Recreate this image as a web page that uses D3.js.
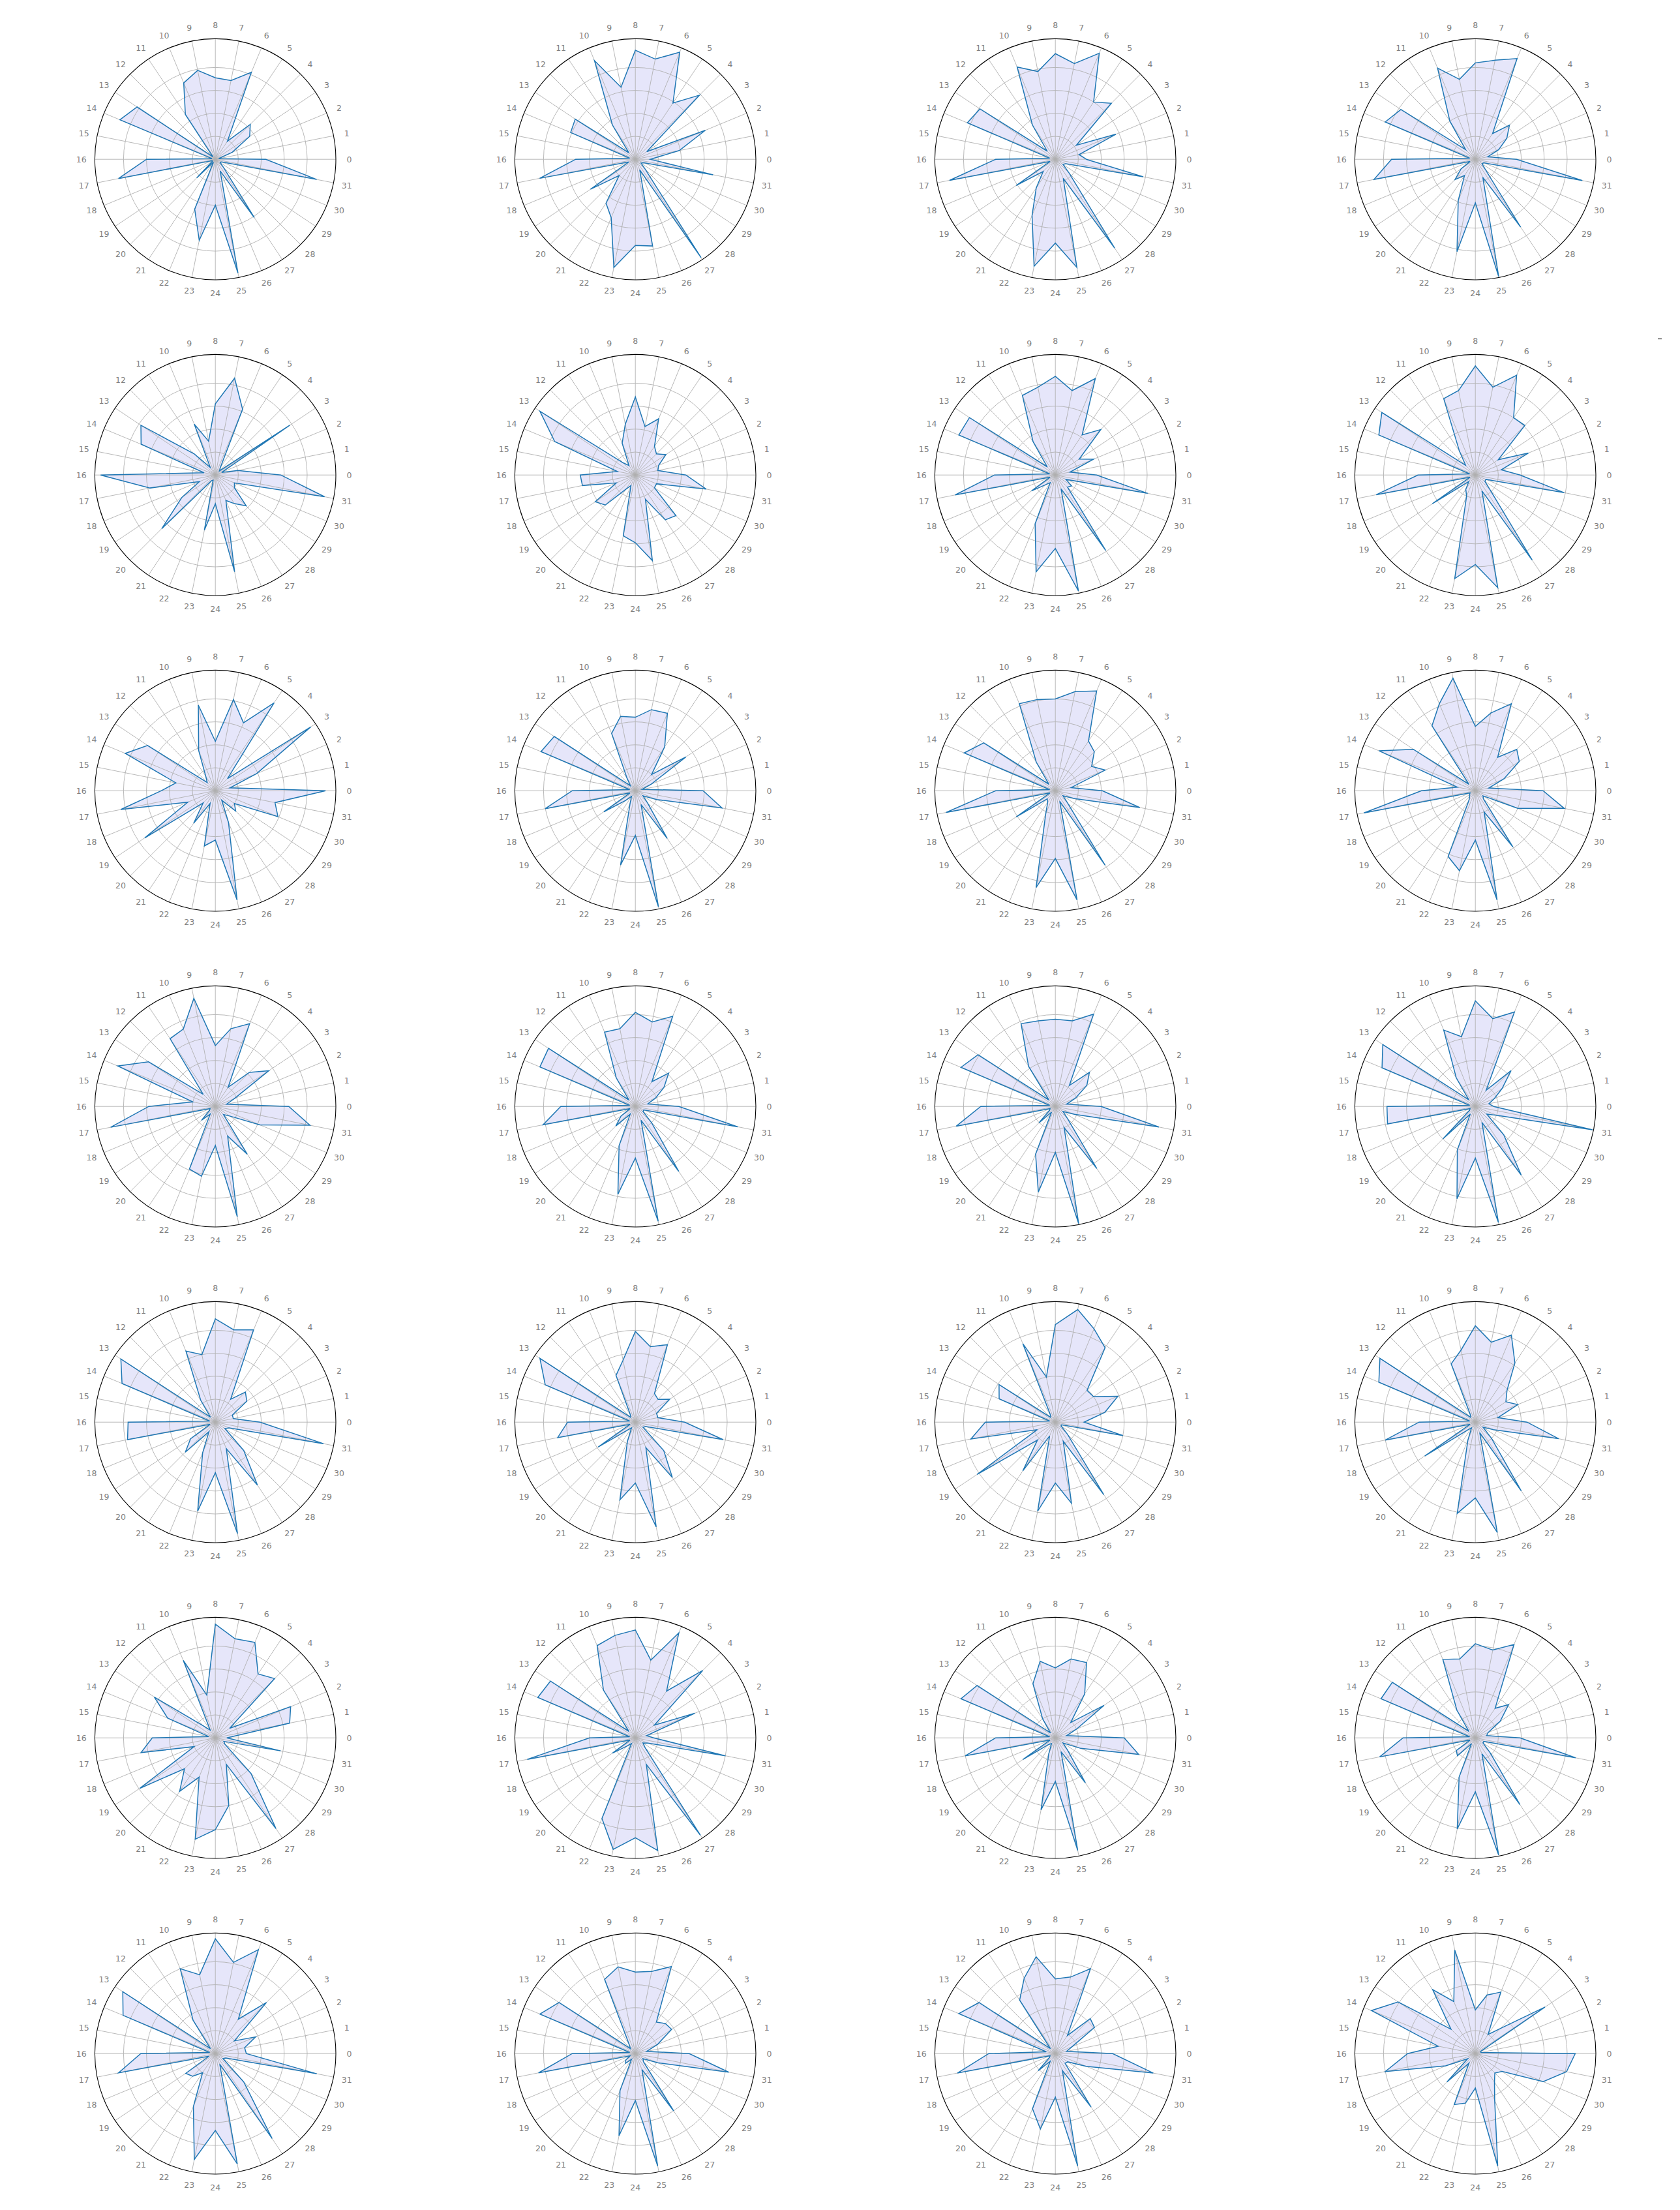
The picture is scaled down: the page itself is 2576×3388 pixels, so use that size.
<!DOCTYPE html>
<html>
<head>
<meta charset="utf-8">
<script src="https://cdn.jsdelivr.net/npm/d3@7"></script>
<style>
  body { margin: 0; background: #fff; }
  svg { display: block; }
  .spoke-label { font-family: "DejaVu Sans", sans-serif; font-size: 12.5px; fill: #808080; }
</style>
</head>
<body>
<svg id="chart"></svg>
<script>
// 32 spokes, counter-clockwise from the right
const spokeLabels = ['0', '1', '2', '3', '4', '5', '6', '7', '8', '9', '10', '11', '12', '13', '14', '15',
    '16', '17', '18', '19', '20', '21', '22', '23', '24', '25', '26', '27', '28', '29', '30', '31'];
const ringValues = [0.2, 0.4, 0.6, 0.8];
const rMax = 1.05;

// one array per panel (row by row, left to right)
const panel01 = [0.44, 0.03, 0.16, 0.36, 0.43, 0.19, 0.82, 0.70, 0.71, 0.79, 0.72, 0.47, 0.03, 0.82, 0.90, 0.03, 0.60, 0.86, 0.03, 0.03, 0.23, 0.03, 0.47, 0.72, 0.40, 1.01, 0.11, 0.61, 0.10, 0.05, 0.06, 0.90];
const panel02 = [0.13, 0.39, 0.66, 0.12, 0.79, 0.59, 1.01, 0.89, 0.95, 0.64, 0.93, 0.36, 0.08, 0.63, 0.61, 0.05, 0.52, 0.85, 0.06, 0.47, 0.20, 0.46, 0.55, 0.96, 0.75, 0.77, 0.10, 1.03, 0.12, 0.06, 0.08, 0.69];
const panel03 = [0.27, 0.21, 0.57, 0.22, 0.69, 0.60, 1.00, 0.85, 0.92, 0.78, 0.87, 0.36, 0.10, 0.79, 0.83, 0.05, 0.52, 0.94, 0.05, 0.41, 0.15, 0.30, 0.53, 0.95, 0.73, 0.96, 0.18, 0.93, 0.17, 0.08, 0.10, 0.78];
const panel04 = [0.36, 0.11, 0.22, 0.33, 0.42, 0.27, 0.95, 0.88, 0.84, 0.71, 0.86, 0.40, 0.12, 0.78, 0.85, 0.05, 0.73, 0.90, 0.05, 0.15, 0.25, 0.17, 0.39, 0.82, 0.38, 1.04, 0.17, 0.71, 0.12, 0.07, 0.08, 0.95];
const panel05 = [0.57, 0.20, 0.06, 0.78, 0.05, 0.08, 0.62, 0.86, 0.62, 0.30, 0.48, 0.08, 0.26, 0.78, 0.70, 0.10, 1.00, 0.58, 0.15, 0.35, 0.66, 0.06, 0.05, 0.49, 0.25, 0.86, 0.24, 0.30, 0.38, 0.20, 0.18, 0.97];
const panel06 = [0.44, 0.20, 0.22, 0.32, 0.26, 0.30, 0.53, 0.43, 0.68, 0.45, 0.30, 0.10, 0.15, 1.00, 0.76, 0.16, 0.48, 0.47, 0.18, 0.42, 0.37, 0.15, 0.10, 0.54, 0.59, 0.76, 0.23, 0.47, 0.50, 0.20, 0.20, 0.63];
const panel07 = [0.36, 0.13, 0.36, 0.25, 0.56, 0.42, 0.91, 0.75, 0.86, 0.78, 0.75, 0.35, 0.10, 0.90, 0.91, 0.05, 0.53, 0.89, 0.05, 0.25, 0.12, 0.08, 0.46, 0.86, 0.64, 1.03, 0.13, 0.79, 0.15, 0.17, 0.10, 0.82];
const panel08 = [0.39, 0.23, 0.50, 0.24, 0.61, 0.60, 0.94, 0.78, 0.95, 0.75, 0.72, 0.25, 0.12, 0.98, 0.91, 0.05, 0.50, 0.88, 0.05, 0.45, 0.08, 0.15, 0.20, 0.92, 0.78, 1.00, 0.15, 0.89, 0.18, 0.10, 0.10, 0.79];
const panel09 = [0.96, 0.13, 0.39, 1.00, 0.15, 0.92, 0.64, 0.81, 0.43, 0.76, 0.38, 0.15, 0.10, 0.71, 0.85, 0.35, 0.47, 0.84, 0.26, 0.74, 0.15, 0.34, 0.12, 0.49, 0.43, 0.97, 0.30, 0.10, 0.25, 0.20, 0.59, 0.53];
const panel10 = [0.59, 0.06, 0.15, 0.53, 0.20, 0.46, 0.73, 0.72, 0.64, 0.66, 0.54, 0.13, 0.06, 0.85, 0.89, 0.05, 0.55, 0.80, 0.05, 0.33, 0.12, 0.06, 0.12, 0.66, 0.39, 1.03, 0.13, 0.50, 0.15, 0.08, 0.20, 0.77];
const panel11 = [0.41, 0.14, 0.47, 0.38, 0.48, 0.52, 0.94, 0.88, 0.80, 0.81, 0.82, 0.30, 0.08, 0.75, 0.86, 0.05, 0.52, 0.97, 0.05, 0.41, 0.10, 0.12, 0.22, 0.86, 0.59, 0.97, 0.10, 0.78, 0.15, 0.08, 0.18, 0.75];
const panel12 = [0.59, 0.12, 0.27, 0.46, 0.51, 0.35, 0.82, 0.69, 0.56, 1.00, 0.82, 0.68, 0.08, 0.65, 0.91, 0.16, 0.47, 0.99, 0.05, 0.06, 0.07, 0.10, 0.62, 0.71, 0.43, 0.97, 0.20, 0.59, 0.10, 0.08, 0.40, 0.79];
const panel13 = [0.64, 0.10, 0.18, 0.56, 0.42, 0.20, 0.78, 0.69, 0.53, 0.96, 0.73, 0.71, 0.15, 0.70, 0.92, 0.20, 0.58, 0.93, 0.05, 0.06, 0.17, 0.08, 0.59, 0.62, 0.34, 0.98, 0.28, 0.50, 0.10, 0.15, 0.42, 0.84];
const panel14 = [0.38, 0.11, 0.19, 0.30, 0.41, 0.26, 0.85, 0.75, 0.82, 0.69, 0.70, 0.30, 0.08, 0.91, 0.90, 0.05, 0.65, 0.82, 0.05, 0.15, 0.24, 0.08, 0.37, 0.78, 0.45, 1.02, 0.13, 0.68, 0.20, 0.08, 0.08, 0.91];
const panel15 = [0.40, 0.10, 0.19, 0.33, 0.42, 0.22, 0.87, 0.76, 0.76, 0.76, 0.78, 0.42, 0.08, 0.81, 0.89, 0.05, 0.65, 0.88, 0.05, 0.06, 0.20, 0.06, 0.45, 0.76, 0.40, 1.04, 0.20, 0.65, 0.15, 0.08, 0.18, 0.92];
const panel16 = [0.16, 0.12, 0.18, 0.28, 0.44, 0.17, 0.89, 0.78, 0.92, 0.62, 0.72, 0.30, 0.08, 0.97, 0.88, 0.05, 0.77, 0.78, 0.05, 0.06, 0.40, 0.08, 0.41, 0.82, 0.45, 1.03, 0.15, 0.72, 0.35, 0.12, 0.20, 1.04];
const panel17 = [0.39, 0.16, 0.16, 0.33, 0.37, 0.24, 0.87, 0.82, 0.90, 0.60, 0.67, 0.23, 0.06, 0.99, 0.88, 0.05, 0.76, 0.78, 0.05, 0.26, 0.37, 0.10, 0.29, 0.79, 0.44, 0.99, 0.25, 0.66, 0.35, 0.10, 0.13, 0.96];
const panel18 = [0.43, 0.20, 0.20, 0.36, 0.28, 0.30, 0.73, 0.67, 0.79, 0.55, 0.44, 0.08, 0.06, 1.00, 0.85, 0.05, 0.59, 0.69, 0.05, 0.39, 0.10, 0.06, 0.18, 0.69, 0.53, 0.93, 0.24, 0.58, 0.35, 0.08, 0.10, 0.78];
const panel19 = [0.25, 0.44, 0.59, 0.40, 0.39, 0.78, 0.88, 1.00, 0.85, 0.40, 0.74, 0.08, 0.06, 0.59, 0.53, 0.05, 0.61, 0.75, 0.17, 0.82, 0.22, 0.51, 0.13, 0.79, 0.53, 0.72, 0.18, 0.76, 0.15, 0.06, 0.06, 0.60];
const panel20 = [0.45, 0.20, 0.40, 0.32, 0.39, 0.62, 0.82, 0.71, 0.84, 0.64, 0.55, 0.08, 0.06, 1.00, 0.91, 0.05, 0.49, 0.80, 0.05, 0.53, 0.10, 0.06, 0.17, 0.81, 0.66, 0.98, 0.10, 0.72, 0.20, 0.08, 0.17, 0.74];
const panel21 = [0.10, 0.66, 0.71, 0.15, 0.73, 0.67, 0.90, 0.88, 0.99, 0.38, 0.73, 0.08, 0.15, 0.64, 0.45, 0.06, 0.55, 0.66, 0.20, 0.79, 0.38, 0.56, 0.37, 0.90, 0.80, 0.60, 0.25, 0.95, 0.44, 0.10, 0.08, 0.58];
const panel22 = [0.16, 0.10, 0.56, 0.20, 0.83, 0.49, 0.99, 0.69, 0.94, 0.91, 0.87, 0.50, 0.08, 0.89, 0.92, 0.05, 0.40, 0.96, 0.05, 0.24, 0.10, 0.06, 0.76, 0.99, 0.87, 1.00, 0.25, 1.02, 0.12, 0.08, 0.12, 0.80];
const panel23 = [0.60, 0.10, 0.20, 0.51, 0.19, 0.46, 0.71, 0.70, 0.61, 0.68, 0.51, 0.20, 0.06, 0.82, 0.89, 0.05, 0.52, 0.80, 0.05, 0.34, 0.08, 0.06, 0.15, 0.64, 0.38, 1.00, 0.13, 0.47, 0.15, 0.08, 0.24, 0.74];
const panel24 = [0.39, 0.10, 0.12, 0.26, 0.41, 0.31, 0.88, 0.78, 0.82, 0.70, 0.74, 0.29, 0.08, 0.87, 0.89, 0.05, 0.63, 0.85, 0.05, 0.20, 0.22, 0.06, 0.37, 0.81, 0.47, 1.04, 0.15, 0.70, 0.18, 0.08, 0.08, 0.89];
const panel25 = [0.27, 0.26, 0.38, 0.20, 0.63, 0.36, 0.98, 0.81, 1.00, 0.70, 0.80, 0.35, 0.06, 0.97, 0.87, 0.05, 0.65, 0.86, 0.06, 0.31, 0.28, 0.20, 0.50, 0.94, 0.67, 0.98, 0.10, 0.89, 0.35, 0.08, 0.10, 0.90];
const panel26 = [0.47, 0.10, 0.21, 0.38, 0.37, 0.33, 0.82, 0.73, 0.71, 0.77, 0.70, 0.10, 0.06, 0.80, 0.90, 0.05, 0.55, 0.86, 0.05, 0.10, 0.12, 0.06, 0.35, 0.73, 0.41, 1.00, 0.15, 0.60, 0.10, 0.08, 0.21, 0.83];
const panel27 = [0.50, 0.10, 0.16, 0.41, 0.43, 0.19, 0.80, 0.68, 0.65, 0.86, 0.71, 0.56, 0.06, 0.80, 0.91, 0.08, 0.58, 0.87, 0.05, 0.06, 0.21, 0.08, 0.52, 0.67, 0.38, 1.00, 0.16, 0.56, 0.12, 0.13, 0.29, 0.87];
const panel28 = [0.87, 0.05, 0.05, 0.73, 0.31, 0.20, 0.58, 0.52, 0.38, 0.92, 0.49, 0.67, 0.30, 0.81, 0.98, 0.33, 0.59, 0.80, 0.28, 0.08, 0.35, 0.10, 0.48, 0.44, 0.30, 1.00, 0.44, 0.30, 0.24, 0.28, 0.64, 0.81];

const panels = [panel01, panel02, panel03, panel04, panel05, panel06, panel07,
    panel08, panel09, panel10, panel11, panel12, panel13, panel14,
    panel15, panel16, panel17, panel18, panel19, panel20, panel21,
    panel22, panel23, panel24, panel25, panel26, panel27, panel28];

// Page layout
const svgWidth = 2576;
const svgHeight = 3388;
const nCols = 4;
const colX0 = 330.2, colStep = 644;
const rowY0 = 244.2, rowStep = 484;
const radius = 184.8;
const labelRadius = 205.4;

const svg = d3.select('#chart')
    .attr('width', svgWidth)
    .attr('height', svgHeight);

svg.append('rect')
    .attr('width', svgWidth)
    .attr('height', svgHeight)
    .attr('fill', '#fff');

// radial scale and angle scale (d3 angles: 0 at 12 o'clock, clockwise)
const rScale = d3.scaleLinear().domain([0, rMax]).range([0, radius]);
const nSpokes = spokeLabels.length;
const angle = d3.scaleLinear().domain([0, nSpokes]).range([Math.PI / 2, Math.PI / 2 - 2 * Math.PI]);

const radarLine = d3.lineRadial()
    .angle((d, i) => angle(i))
    .radius(d => rScale(d))
    .curve(d3.curveLinearClosed);

function drawPanel(data, idx) {
    const cx = colX0 + (idx % nCols) * colStep;
    const cy = rowY0 + Math.floor(idx / nCols) * rowStep;

    const g = svg.append('g')
        .attr('transform', `translate(${cx}, ${cy})`);

    // filled area sits below the grid
    g.append('path')
        .datum(data)
        .attr('d', radarLine)
        .attr('fill', '#e6e6fa')
        .attr('stroke', 'none');

    // rings
    g.selectAll('.ring')
        .data(ringValues)
        .enter()
        .append('circle')
        .attr('class', 'ring')
        .attr('r', d => rScale(d))
        .attr('fill', 'none')
        .attr('stroke', '#b0b0b0')
        .attr('stroke-width', 0.9);

    // spokes
    g.selectAll('.spoke')
        .data(spokeLabels)
        .enter()
        .append('line')
        .attr('class', 'spoke')
        .attr('x1', 0)
        .attr('y1', 0)
        .attr('x2', (d, i) => rScale(rMax) * Math.sin(angle(i)))
        .attr('y2', (d, i) => -rScale(rMax) * Math.cos(angle(i)))
        .attr('stroke', '#b0b0b0')
        .attr('stroke-width', 0.9);

    // outer frame
    g.append('circle')
        .attr('r', rScale(rMax))
        .attr('fill', 'none')
        .attr('stroke', '#000')
        .attr('stroke-width', 1.1);

    // outline
    g.append('path')
        .datum(data)
        .attr('d', radarLine)
        .attr('fill', 'none')
        .attr('stroke', '#1f77b4')
        .attr('stroke-width', 1.5)
        .attr('stroke-linejoin', 'miter');

    // spoke labels
    g.selectAll('.spoke-label')
        .data(spokeLabels)
        .enter()
        .append('text')
        .attr('class', 'spoke-label')
        .attr('x', (d, i) => labelRadius * Math.sin(angle(i)))
        .attr('y', (d, i) => -labelRadius * Math.cos(angle(i)))
        .attr('text-anchor', 'middle')
        .attr('dominant-baseline', 'central')
        .text(d => d);
}

panels.forEach(drawPanel);

// small stray tick at the right edge of the original figure
svg.append('line')
    .attr('x1', 2542).attr('x2', 2548)
    .attr('y1', 519.5).attr('y2', 519.5)
    .attr('stroke', '#222')
    .attr('stroke-width', 1.2);
</script>
</body>
</html>
